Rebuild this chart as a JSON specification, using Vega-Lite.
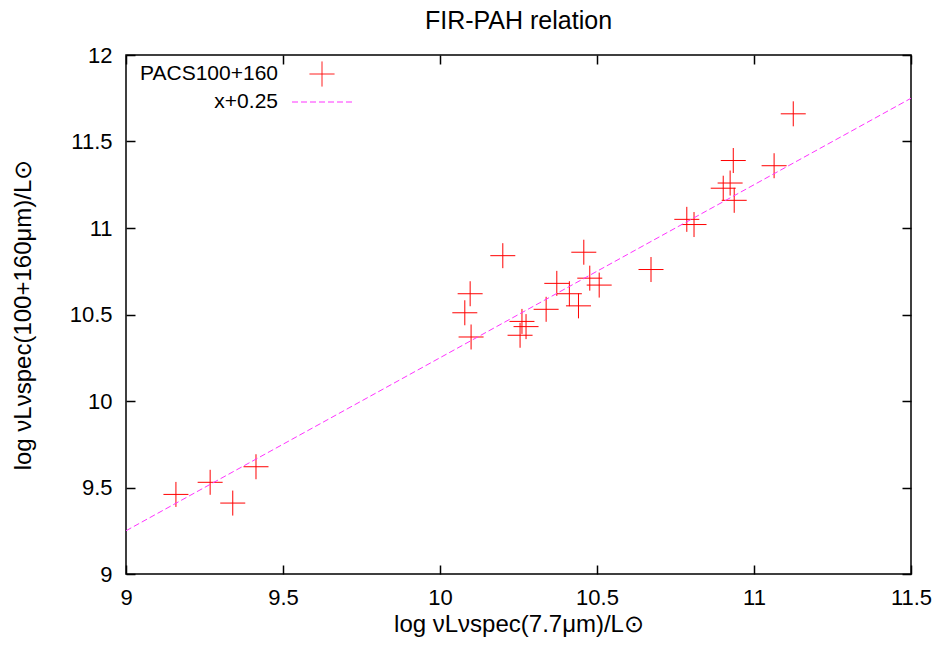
{
  "$schema": "https://vega.github.io/schema/vega-lite/v6.json",
  "width": 785,
  "height": 519,
  "autosize": "none",
  "padding": {"left": 126, "top": 55, "right": 31, "bottom": 71},
  "background": "white",
  "title": {"text": "FIR-PAH relation", "fontSize": 25, "font": "Liberation Sans", "fontWeight": "normal", "color": "black", "anchor": "middle", "frame": "group", "offset": 10},
  "config": {
    "view": {"stroke": "black", "strokeWidth": 1.5},
    "font": "Liberation Sans",
    "title": {"fontSize": 25, "fontWeight": "normal", "color": "black"},
    "legend": {"orient": "none", "legendX": 183, "legendY": 6, "symbolSize": 625, "symbolStrokeWidth": 1, "labelAlign": "right", "labelOffset": -57, "labelFontSize": 21, "labelFont": "Liberation Sans", "labelColor": "black", "rowPadding": -5, "padding": 0, "labelLimit": 0}
  },
  "datasets": {
    "points": [
      {"x": 9.159, "y": 9.46, "series": "PACS100+160"},
      {"x": 9.268, "y": 9.53, "series": "PACS100+160"},
      {"x": 9.340, "y": 9.41, "series": "PACS100+160"},
      {"x": 9.414, "y": 9.62, "series": "PACS100+160"},
      {"x": 10.096, "y": 10.62, "series": "PACS100+160"},
      {"x": 10.079, "y": 10.51, "series": "PACS100+160"},
      {"x": 10.099, "y": 10.37, "series": "PACS100+160"},
      {"x": 10.200, "y": 10.84, "series": "PACS100+160"},
      {"x": 10.255, "y": 10.38, "series": "PACS100+160"},
      {"x": 10.261, "y": 10.46, "series": "PACS100+160"},
      {"x": 10.274, "y": 10.43, "series": "PACS100+160"},
      {"x": 10.338, "y": 10.53, "series": "PACS100+160"},
      {"x": 10.372, "y": 10.68, "series": "PACS100+160"},
      {"x": 10.412, "y": 10.62, "series": "PACS100+160"},
      {"x": 10.441, "y": 10.55, "series": "PACS100+160"},
      {"x": 10.458, "y": 10.86, "series": "PACS100+160"},
      {"x": 10.477, "y": 10.71, "series": "PACS100+160"},
      {"x": 10.507, "y": 10.67, "series": "PACS100+160"},
      {"x": 10.672, "y": 10.76, "series": "PACS100+160"},
      {"x": 10.786, "y": 11.05, "series": "PACS100+160"},
      {"x": 10.809, "y": 11.02, "series": "PACS100+160"},
      {"x": 11.125, "y": 11.66, "series": "PACS100+160"},
      {"x": 10.934, "y": 11.39, "series": "PACS100+160"},
      {"x": 11.064, "y": 11.36, "series": "PACS100+160"},
      {"x": 10.924, "y": 11.26, "series": "PACS100+160"},
      {"x": 10.902, "y": 11.23, "series": "PACS100+160"},
      {"x": 10.937, "y": 11.16, "series": "PACS100+160"}
    ],
    "fit": [
      {"x": 9, "y": 9.25, "series": "x+0.25"},
      {"x": 11.5, "y": 11.75, "series": "x+0.25"}
    ]
  },
  "layer": [
    {
      "data": {"name": "points"},
      "mark": {"type": "point", "filled": false, "size": 625, "strokeWidth": 1, "opacity": 1},
      "encoding": {
        "x": {"field": "x", "type": "quantitative", "scale": {"domain": [9, 11.5], "nice": false, "zero": false},
          "axis": {"orient": "bottom", "values": [9, 9.5, 10, 10.5, 11, 11.5], "format": "~g", "tickSize": -9, "tickColor": "black", "tickWidth": 1.5, "domain": false, "grid": false, "labelFontSize": 22, "labelColor": "black", "labelPadding": 22, "labelFlush": false, "labelOverlap": false, "title": "log νLνspec(7.7μm)/L⊙", "titleFontSize": 24, "titleFontWeight": "normal", "titleColor": "black", "titlePadding": 4}},
        "y": {"field": "y", "type": "quantitative", "scale": {"domain": [9, 12], "nice": false, "zero": false},
          "axis": {"orient": "left", "values": [9, 9.5, 10, 10.5, 11, 11.5, 12], "format": "~g", "tickSize": -9, "tickColor": "black", "tickWidth": 1.5, "domain": false, "grid": false, "labelFontSize": 22, "labelColor": "black", "labelPadding": 23, "labelFlush": false, "labelOverlap": false, "title": "log νLνspec(100+160μm)/L⊙", "titleFontSize": 24, "titleFontWeight": "normal", "titleColor": "black", "titlePadding": 34}},
        "color": {"field": "series", "type": "nominal", "scale": {"domain": ["PACS100+160", "x+0.25"], "range": ["#ff0000", "#ff33ff"]}, "legend": {"title": null}},
        "shape": {"field": "series", "type": "nominal", "scale": {"domain": ["PACS100+160", "x+0.25"], "range": ["M-1,0L1,0M0,-1L0,1", "M-2.4,0L2.4,0"]}, "legend": {"title": null}}
      }
    },
    {
      "data": {"name": "fit"},
      "mark": {"type": "line", "strokeWidth": 1, "clip": true},
      "encoding": {
        "x": {"field": "x", "type": "quantitative", "axis": {"orient": "top", "values": [9, 9.5, 10, 10.5, 11, 11.5], "tickSize": -9, "tickColor": "black", "tickWidth": 1.5, "domain": false, "grid": false, "labels": false, "title": null}},
        "y": {"field": "y", "type": "quantitative", "axis": {"orient": "right", "values": [9, 9.5, 10, 10.5, 11, 11.5, 12], "tickSize": -9, "tickColor": "black", "tickWidth": 1.5, "domain": false, "grid": false, "labels": false, "title": null}},
        "color": {"field": "series", "type": "nominal", "legend": {"title": null}},
        "strokeDash": {"field": "series", "type": "nominal", "scale": {"domain": ["PACS100+160", "x+0.25"], "range": [[1, 0], [6, 3]]}, "legend": {"title": null}}
      }
    }
  ],
  "resolve": {"axis": {"x": "independent", "y": "independent"}}
}
